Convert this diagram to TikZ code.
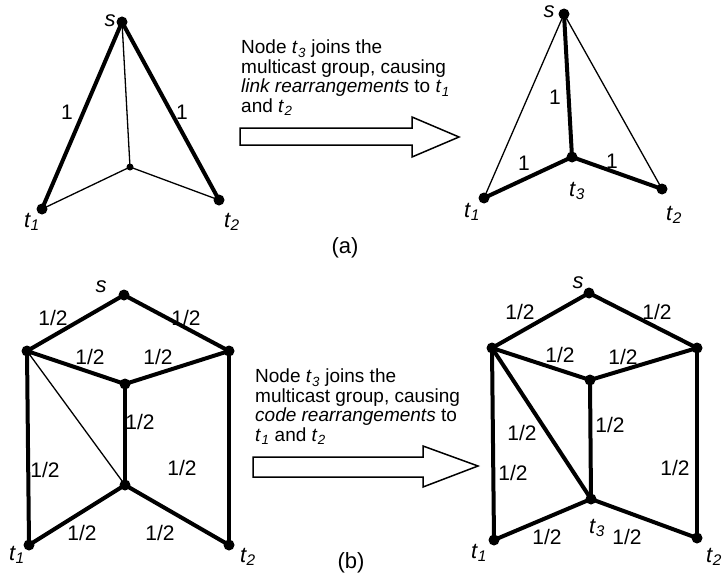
\documentclass[tikz,border=0pt]{standalone}
\usepackage{fontspec}
\setmainfont{Liberation Sans}
\newcommand{\tv}[1]{\textit{t}\kern0.02em\textsubscript{\textit{#1}}}
\tikzset{
  dot/.style={circle,fill=black,inner sep=0pt,minimum size=11pt},
  smalldot/.style={circle,fill=black,inner sep=0pt,minimum size=7pt},
  thk/.style={line width=4pt},
  thn/.style={line width=1.3pt},
  lbl/.style={inner sep=0pt,font=\fontsize{21}{21}\selectfont},
  nm/.style={inner sep=0pt,font=\fontsize{22}{22}\selectfont\itshape},
  desc/.style={inner sep=0pt,anchor=north west,align=left,font=\fontsize{19}{19.5}\selectfont},
  bigarrow/.style={draw=black,fill=white,line width=1.5pt,line join=miter},
}
\begin{document}
\begin{tikzpicture}[x=1pt,y=-1pt]
\useasboundingbox (0,0) rectangle (725,578);
\fill[white] (0,0) rectangle (725,578);

% ---------- (a) left ----------
\node[dot] (as) at (122,22) {};
\node[smalldot] (ac) at (130,167) {};
\node[dot] (at1) at (42,209) {};
\node[dot] (at2) at (219,200) {};
\draw[thk] (as.center) -- (at1.center);
\draw[thk] (as.center) -- (at2.center);
\draw[thn] (as.center) -- (ac.center);
\draw[thn] (ac.center) -- (at1.center);
\draw[thn] (ac.center) -- (at2.center);
\node[nm] (asl) at (110,21) {s};
\node[nm] (at1l) at (32,222) {\tv{1}};
\node[nm] (at2l) at (232,222) {\tv{2}};
\node[lbl] (ae1) at (67,112) {1};
\node[lbl] (ae2) at (182,112) {1};

% ---------- (a) text + arrow ----------
\node[desc] (atext) at (241,40) {Node \tv{3} joins the\\multicast group, causing\\\textit{link rearrangements} to \tv{1}\\and \tv{2}};
\draw[bigarrow] (240,128) -- (412,128) -- (412,117) -- (459,137) -- (412,157) -- (412,145) -- (240,145) -- cycle;

% ---------- (a) right ----------
\node[dot] (bs) at (564,14) {};
\node[dot] (bt3) at (572,157) {};
\node[dot] (bt1) at (484,198) {};
\node[dot] (bt2) at (662,189) {};
\draw[thn] (bs.center) -- (bt1.center);
\draw[thn] (bs.center) -- (bt2.center);
\draw[thk] (bs.center) -- (bt3.center);
\draw[thk] (bt1.center) -- (bt3.center);
\draw[thk] (bt3.center) -- (bt2.center);
\node[nm] (bsl) at (549,12) {s};
\node[nm] (bt3l) at (577,191) {\tv{3}};
\node[nm] (bt1l) at (472,212) {\tv{1}};
\node[nm] (bt2l) at (674,215) {\tv{2}};
\node[lbl] (be1) at (555,97) {1};
\node[lbl] (be2) at (524,163) {1};
\node[lbl] (be3) at (612,161) {1};

\node[lbl,font=\fontsize{22}{22}\selectfont] (alab) at (345,248) {(a)};

% ---------- (b) left ----------
\node[dot] (cs) at (124,295) {};
\node[dot] (cL) at (27,351) {};
\node[dot] (cR) at (229,351) {};
\node[dot] (cM) at (125,384) {};
\node[dot] (cB) at (125,485) {};
\node[dot] (ct1) at (29,545) {};
\node[dot] (ct2) at (229,545) {};
\draw[thk] (cs.center) -- (cL.center);
\draw[thk] (cs.center) -- (cR.center);
\draw[thk] (cL.center) -- (cM.center);
\draw[thk] (cM.center) -- (cR.center);
\draw[thk] (cM.center) -- (cB.center);
\draw[thk] (cL.center) -- (ct1.center);
\draw[thk] (cR.center) -- (ct2.center);
\draw[thk] (ct1.center) -- (cB.center);
\draw[thk] (cB.center) -- (ct2.center);
\draw[thn] (cL.center) -- (cB.center);
\node[nm] (csl) at (101,287) {s};
\node[nm] (ct1l) at (17,555) {\tv{1}};
\node[nm] (ct2l) at (248,557) {\tv{2}};
\node[lbl] (ce1) at (53,318) {1/2};
\node[lbl] (ce2) at (186,318) {1/2};
\node[lbl] (ce3) at (90,357) {1/2};
\node[lbl] (ce4) at (158,357) {1/2};
\node[lbl] (ce5) at (140,422) {1/2};
\node[lbl] (ce6) at (45,470) {1/2};
\node[lbl] (ce7) at (182,468) {1/2};
\node[lbl] (ce8) at (82,533) {1/2};
\node[lbl] (ce9) at (160,533) {1/2};

% ---------- (b) text + arrow ----------
\node[desc] (btext) at (255,369) {Node \tv{3} joins the\\multicast group, causing\\\textit{code rearrangements} to\\\tv{1} and \tv{2}};
\draw[bigarrow] (253,457) -- (423,457) -- (423,446) -- (478,466) -- (423,487) -- (423,477) -- (253,477) -- cycle;

% ---------- (b) right ----------
\node[dot] (ds) at (589,293) {};
\node[dot] (dL) at (492,348) {};
\node[dot] (dR) at (697,348) {};
\node[dot] (dM) at (590,380) {};
\node[dot] (dB) at (591,499) {};
\node[dot] (dt1) at (494,540) {};
\node[dot] (dt2) at (697,538) {};
\draw[thk] (ds.center) -- (dL.center);
\draw[thk] (ds.center) -- (dR.center);
\draw[thk] (dL.center) -- (dM.center);
\draw[thk] (dM.center) -- (dR.center);
\draw[thk] (dM.center) -- (dB.center);
\draw[thk] (dL.center) -- (dB.center);
\draw[thk] (dL.center) -- (dt1.center);
\draw[thk] (dR.center) -- (dt2.center);
\draw[thk] (dt1.center) -- (dB.center);
\draw[thk] (dB.center) -- (dt2.center);
\node[nm] (dsl) at (578,283) {s};
\node[nm] (dt3l) at (597,528) {\tv{3}};
\node[nm] (dt1l) at (479,553) {\tv{1}};
\node[nm] (dt2l) at (714,557) {\tv{2}};
\node[lbl] (de1) at (520,312) {1/2};
\node[lbl] (de2) at (657,312) {1/2};
\node[lbl] (de3) at (560,355) {1/2};
\node[lbl] (de4) at (623,357) {1/2};
\node[lbl] (de5) at (610,425) {1/2};
\node[lbl] (de6) at (522,433) {1/2};
\node[lbl] (de7) at (513,473) {1/2};
\node[lbl] (de8) at (675,468) {1/2};
\node[lbl] (de9) at (547,537) {1/2};
\node[lbl] (de10) at (627,537) {1/2};

\node[lbl,font=\fontsize{22}{22}\selectfont] (blab) at (351,563) {(b)};
\end{tikzpicture}
\end{document}
